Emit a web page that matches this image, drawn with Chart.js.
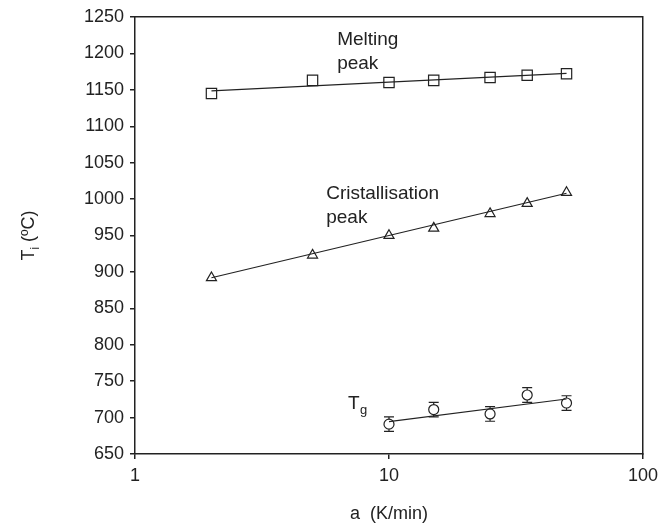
<!DOCTYPE html>
<html>
<head>
<meta charset="utf-8">
<script src="https://cdn.jsdelivr.net/npm/chart.js@4"></script>
<style>
  html, body { margin: 0; padding: 0; background: #fff; }
  #wrap { width: 664px; height: 528px; }
</style>
</head>
<body>
<div id="wrap"><canvas id="myChart" width="664" height="528"></canvas></div>
<script>
// heating rates (K/min)
const rates = [2, 5, 10, 15, 25, 35, 50];
const ratesTg = [10, 15, 25, 35, 50];

// peak temperatures (ºC)
const melting = [1145, 1163, 1160, 1163, 1167, 1170, 1172];
const cristallisation = [892, 923, 950, 960, 980, 994, 1009];
const tg = [691, 711, 705, 731, 720];
const tgErr = [10, 10, 10, 10, 10];

// fitted lines (end points)
const meltFit = [1148.5, 1172.5];
const crystFit = [892, 1008];
const tgFit = [694.5, 725.5];

const yTicks = [650, 700, 750, 800, 850, 900, 950, 1000, 1050, 1100, 1150, 1200, 1250];
const xTicks = [1, 10, 100];

const FONT = '"Liberation Sans", Arial, sans-serif';
const INK = '#222';

function pts(xs, ys) {
    return xs.map((x, i) => ({ x: x, y: ys[i] }));
}

function fitLine(xs, ends) {
    return [{ x: xs[0], y: ends[0] }, { x: xs[xs.length - 1], y: ends[1] }];
}

const markers = {
    type: 'line',
    showLine: false,
    borderColor: INK,
    backgroundColor: '#fff',
    pointBorderWidth: 1.2,
};

const lineStyle = {
    type: 'line',
    borderColor: INK,
    borderWidth: 1.2,
    pointRadius: 0,
    fill: false,
};

// error bars + text labels
const extras = {
    id: 'extras',
    afterDatasetsDraw(chart) {
        const ctx = chart.ctx;
        const xs = chart.scales.x;
        const ys = chart.scales.y;
        ctx.save();
        ctx.strokeStyle = INK;
        ctx.lineWidth = 1.2;
        ratesTg.forEach((r, i) => {
            const px = xs.getPixelForValue(r);
            const top = ys.getPixelForValue(tg[i] + tgErr[i]);
            const bot = ys.getPixelForValue(tg[i] - tgErr[i]);
            const c = ys.getPixelForValue(tg[i]);
            ctx.beginPath();
            ctx.moveTo(px, top); ctx.lineTo(px, c - 5);
            ctx.moveTo(px, c + 5); ctx.lineTo(px, bot);
            ctx.moveTo(px - 5, top); ctx.lineTo(px + 5, top);
            ctx.moveTo(px - 5, bot); ctx.lineTo(px + 5, bot);
            ctx.stroke();
        });

        ctx.fillStyle = INK;
        ctx.textBaseline = 'alphabetic';
        ctx.textAlign = 'left';
        ctx.font = '19px ' + FONT;
        const at = (x, y) => [xs.getPixelForValue(x), ys.getPixelForValue(y)];
        let p = at(6.25, 1212);
        ctx.fillText('Melting', p[0], p[1]);
        ctx.fillText('peak', p[0], p[1] + 24);
        p = at(5.66, 1000);
        ctx.fillText('Cristallisation', p[0], p[1]);
        ctx.fillText('peak', p[0], p[1] + 24);
        p = at(6.9, 712);
        ctx.fillText('T', p[0], p[1]);
        ctx.font = '13px ' + FONT;
        ctx.fillText('g', p[0] + 12, p[1] + 5);
        ctx.restore();
    },
    afterDraw(chart) {
        const ctx = chart.ctx;
        const a = chart.chartArea;
        ctx.save();
        ctx.fillStyle = INK;
        // x title
        ctx.font = '18px ' + FONT;
        ctx.textAlign = 'center';
        ctx.textBaseline = 'alphabetic';
        ctx.fillText('a  (K/min)', (a.left + a.right) / 2, 519);
        // y title
        ctx.translate(34, (a.top + a.bottom) / 2);
        ctx.rotate(-Math.PI / 2);
        ctx.textAlign = 'left';
        const w1 = ctx.measureText('T').width;
        ctx.font = '12px ' + FONT;
        const w2 = ctx.measureText('i').width;
        ctx.font = '18px ' + FONT;
        const w3 = ctx.measureText(' (ºC)').width;
        let x0 = -(w1 + w2 + w3) / 2;
        ctx.fillText('T', x0, 0);
        ctx.font = '12px ' + FONT;
        ctx.fillText('i', x0 + w1, 5);
        ctx.font = '18px ' + FONT;
        ctx.fillText(' (ºC)', x0 + w1 + w2, 0);
        ctx.restore();
    }
};

const ctx = document.getElementById('myChart').getContext('2d');
const myChart = new Chart(ctx, {
    data: {
        datasets: [
            { ...lineStyle, data: fitLine(rates, meltFit) },
            { ...lineStyle, data: fitLine(rates, crystFit) },
            { ...lineStyle, data: fitLine(ratesTg, tgFit) },
            { ...markers, data: pts(rates, melting), pointStyle: 'rect', pointRadius: 7.3 },
            { ...markers, data: pts(rates, cristallisation), pointStyle: 'triangle', pointRadius: 5.8 },
            { ...markers, data: pts(ratesTg, tg), pointStyle: 'circle', pointRadius: 5 },
        ],
    },
    options: {
        responsive: false,
        animation: false,
        layout: { padding: { left: 0, right: 19, top: 17, bottom: 0 } },
        plugins: {
            legend: { display: false },
            tooltip: { enabled: false },
        },
        scales: {
            x: {
                type: 'logarithmic',
                min: 1,
                max: 100,
                afterFit(scale) { scale.height = 74; },
                afterBuildTicks(scale) { scale.ticks = xTicks.map(v => ({ value: v, major: true })); },
                border: { color: INK, width: 1.5 },
                grid: { drawOnChartArea: false, tickLength: 5, color: INK, lineWidth: 1.5 },
                ticks: {
                    color: INK,
                    font: { family: FONT, size: 18 },
                    padding: 6,
                    maxRotation: 0,
                    callback: v => String(v),
                },
            },
            y: {
                min: 650,
                max: 1250,
                afterFit(scale) { scale.width = 135; },
                afterBuildTicks(scale) { scale.ticks = yTicks.map(v => ({ value: v })); },
                border: { color: INK, width: 1.5 },
                grid: { drawOnChartArea: false, tickLength: 5, color: INK, lineWidth: 1.5 },
                ticks: {
                    color: INK,
                    font: { family: FONT, size: 18 },
                    padding: 6,
                    callback: v => String(v),
                },
            },
            x2: {
                type: 'logarithmic', position: 'top', min: 1, max: 100,
                border: { color: INK, width: 1.5 },
                grid: { display: false },
                ticks: { display: false },
                afterFit(scale) { scale.height = 0; },
            },
            y2: {
                position: 'right', min: 650, max: 1250,
                border: { color: INK, width: 1.5 },
                grid: { display: false },
                ticks: { display: false },
                afterFit(scale) { scale.width = 0; },
            },
        },
    },
    plugins: [extras],
});
</script>
</body>
</html>
